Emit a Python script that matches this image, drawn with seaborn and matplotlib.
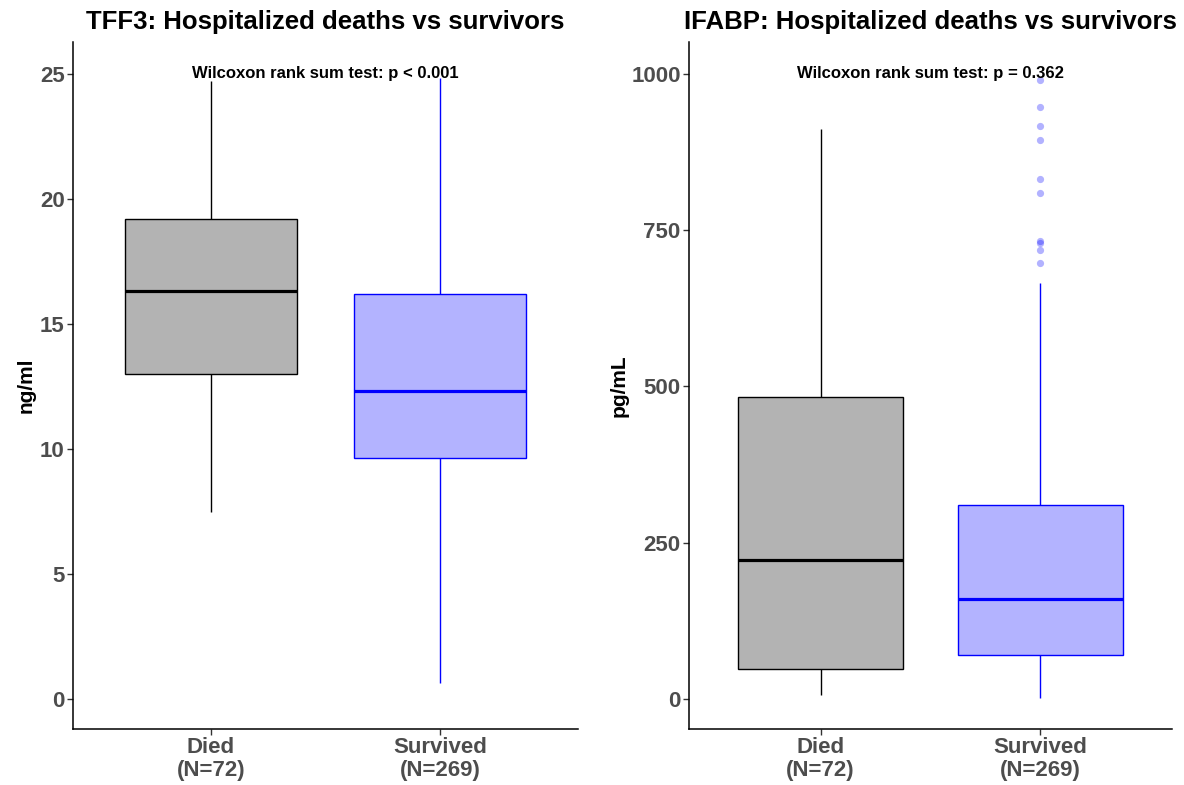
import matplotlib
matplotlib.use("Agg")
import matplotlib.pyplot as plt
import seaborn as sns
import pandas as pd

# Groups and their sample sizes
groups = ["Died", "Survived"]
group_n = [72, 269]
tick_labels = [f"{g}\n(N={n})" for g, n in zip(groups, group_n)]

# TFF3 (ng/ml) five-number summaries per group: whisker low, Q1, median, Q3, whisker high
tff3_died = [7.48, 13.0, 16.33, 19.22, 24.72]
tff3_survived = [0.64, 9.64, 12.34, 16.22, 24.85]
tff3_p_text = "Wilcoxon rank sum test: p < 0.001"

# IFABP (pg/mL) five-number summaries per group
ifabp_died = [6.0, 48.0, 222.0, 483.0, 912.0]
ifabp_survived = [2.0, 70.0, 160.0, 311.0, 665.0]
# Survivor outliers above the upper whisker
ifabp_survived_outliers = [697, 718, 730, 732, 809, 832, 894, 917, 947, 991]
ifabp_p_text = "Wilcoxon rank sum test: p = 0.362"

fill_colors = {"Died": "#B3B3B3", "Survived": "#B3B3FF"}
line_colors = {"Died": "#000000", "Survived": "#0000FF"}

sns.set_theme(style="white")
plt.rcParams["font.family"] = ["Liberation Sans", "DejaVu Sans"]
plt.rcParams["font.weight"] = "bold"


def long_form(died, survived):
    return pd.DataFrame({
        "group": ["Died"] * len(died) + ["Survived"] * len(survived),
        "value": list(died) + list(survived),
    })


def draw_panel(ax, df, outliers, title, ylabel, ylim, yticks, p_text, label_x):
    for g in groups:
        sub = df[df["group"] == g]
        sns.boxplot(
            data=sub, x="group", y="value", order=groups, ax=ax,
            width=0.75, color=fill_colors[g], saturation=1,
            linecolor=line_colors[g], linewidth=1.0,
            showcaps=False, showfliers=False, whis=1.5,
            medianprops={"color": line_colors[g], "linewidth": 2.3},
        )
    if outliers is not None and len(outliers):
        sns.stripplot(
            data=outliers, x="group", y="value", order=groups, ax=ax,
            jitter=False, color="#0000FF", alpha=0.3, size=5.2, linewidth=0,
        )
    ax.set_xlim(-0.6, 1.6)
    ax.set_ylim(*ylim)
    ax.set_yticks(yticks)
    ax.set_yticklabels([str(t) for t in yticks])
    ax.set_xticks(range(len(groups)))
    ax.set_xticklabels(tick_labels)
    for lab in ax.get_xticklabels():
        lab.set_linespacing(1.12)
    ax.set_xlabel("")
    ax.set_ylabel(ylabel, fontsize=15, fontweight="bold", color="black")
    ax.yaxis.set_label_coords(label_x, 0.5)
    ax.set_title(title, fontsize=18.5, fontweight="bold", color="black", pad=9)
    ax.tick_params(axis="both", direction="out", length=4, width=1.0,
                   color="#333333", labelcolor="#4D4D4D", labelsize=16, pad=2)
    ax.tick_params(axis="both", which="both", bottom=True, left=True)
    sns.despine(ax=ax)
    for side in ("left", "bottom"):
        ax.spines[side].set_color("black")
        ax.spines[side].set_linewidth(1.1)
    ax.text(0.5, yticks[-1], p_text, ha="center", va="center",
            fontsize=12, fontweight="bold", color="black")


fig = plt.figure(figsize=(11.84, 7.85), dpi=100)
ax1 = fig.add_axes([0.0617, 0.0713, 0.4265, 0.8752])
ax2 = fig.add_axes([0.5819, 0.0713, 0.4079, 0.8752])

tff3_df = long_form(tff3_died, tff3_survived)
ifabp_df = long_form(ifabp_died, ifabp_survived)
ifabp_out = pd.DataFrame({"group": ["Survived"] * len(ifabp_survived_outliers),
                          "value": ifabp_survived_outliers})

draw_panel(ax1, tff3_df, None, "TFF3: Hospitalized deaths vs survivors", "ng/ml",
           (-1.2, 26.28), [0, 5, 10, 15, 20, 25], tff3_p_text, -0.075)
draw_panel(ax2, ifabp_df, ifabp_out, "IFABP: Hospitalized deaths vs survivors", "pg/mL",
           (-48, 1051), [0, 250, 500, 750, 1000], ifabp_p_text, -0.125)

fig.savefig("out.png", dpi=100, facecolor="white")
